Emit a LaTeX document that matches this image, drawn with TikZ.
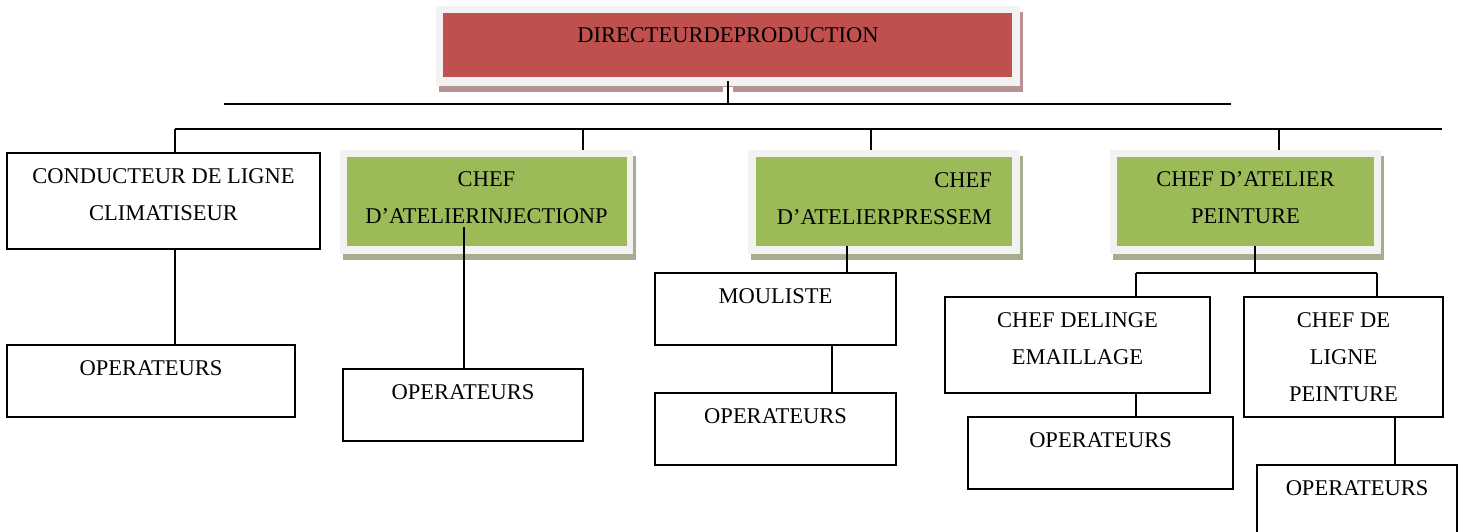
\documentclass[tikz,border=0pt]{standalone}
\usepackage{fontspec}
\setmainfont{Liberation Serif}
\usetikzlibrary{shadows}
\definecolor{redfill}{HTML}{C0504D}
\definecolor{redshadow}{HTML}{B79292}
\definecolor{greenfill}{HTML}{9BBB59}
\definecolor{greenshadow}{HTML}{A7AE90}
\definecolor{framegrey}{HTML}{F2F2F2}
\begin{document}
\begin{tikzpicture}[x=1pt,y=-1pt,
  conn/.style={draw=black,line width=1.6pt},
  plainbox/.style={draw=black,line width=1.6pt,fill=white,rectangle,inner sep=0pt},
  framebox/.style={fill=framegrey,rectangle,inner sep=0pt,
    general shadow={shadow xshift=3pt,shadow yshift=-6pt,fill=#1}},
  txt/.style={font=\fontsize{22.5}{37}\selectfont,align=center,inner sep=0pt,anchor=base},
]
\useasboundingbox (0,0) rectangle (1464,531);
\fill[white] (0,0) rectangle (1464,531);
\clip (0,0) rectangle (1464,531);

% --- head of production ---
\node[framebox=redshadow,minimum width=584pt,minimum height=80pt] (top) at (728,46) {};
\fill[redfill] ([shift={(7,7)}]top.north west) rectangle ([shift={(-8,-9)}]top.south east);
\node[txt] (ttop) at ([yshift=-37pt]top.north) {DIRECTEURDEPRODUCTION};

% --- bus lines ---
\coordinate (busAL) at (224,104);
\coordinate (busAR) at (1231,104);
\coordinate (busBL) at (175,129);
\coordinate (busBR) at (1442,129);
\coordinate (d1) at (175,129);
\coordinate (d2) at (583,129);
\coordinate (d3) at (871,129);
\coordinate (d4) at (1279,129);

\draw[white,line width=10pt] ([yshift=-1pt]top.south) -- ([yshift=-7pt]top.south);
\draw[conn] ([yshift=5pt]top.south) -- (top.south |- busAL);
\draw[conn] (busAL) -- (busAR);
\draw[conn] (busBL) -- (busBR);
\draw[line width=2.6pt] (487,129) -- (559,129);

% --- second level (text nodes are anchored on the baseline of their last line) ---
\node[plainbox,minimum width=313pt,minimum height=96pt] (b1) at (163.5,201) {};
\node[txt] (tb1) at ([yshift=-68pt]b1.north) {CONDUCTEUR DE LIGNE\\CLIMATISEUR};

\node[framebox=greenshadow,minimum width=293pt,minimum height=104pt] (g2) at (486.5,202) {};
\fill[greenfill] ([shift={(7,7)}]g2.north west) rectangle ([shift={(-6,-8)}]g2.south east);
\node[txt] (tg2) at ([yshift=-74pt]g2.north) {CHEF\\D’ATELIERINJECTIONP};

\node[framebox=greenshadow,minimum width=272pt,minimum height=104pt] (g3) at (884,202) {};
\fill[greenfill] ([shift={(8,7)}]g3.north west) rectangle ([shift={(-8,-8)}]g3.south east);
\node[txt,align=right,anchor=base east] (tg3) at (992,224) {CHEF\\D’ATELIERPRESSEM};

\node[framebox=greenshadow,minimum width=271pt,minimum height=104pt] (g4) at (1245.5,202) {};
\fill[greenfill] ([shift={(7,7)}]g4.north west) rectangle ([shift={(-7,-8)}]g4.south east);
\node[txt] (tg4) at ([yshift=-74pt]g4.north) {CHEF D’ATELIER\\PEINTURE};

\draw[conn] (d1) -- (d1 |- b1.north);
\draw[conn] (d2) -- (d2 |- g2.north);
\draw[conn] (d3) -- (d3 |- g3.north);
\draw[conn] (d4) -- (d4 |- g4.north);

% --- third level ---
\node[plainbox,minimum width=288pt,minimum height=72pt] (o1) at (151,381) {};
\node[txt] (to1) at ([yshift=-31pt]o1.north) {OPERATEURS};

\node[plainbox,minimum width=240pt,minimum height=72pt] (o2) at (463,405) {};
\node[txt] (to2) at ([yshift=-31pt]o2.north) {OPERATEURS};

\node[plainbox,minimum width=241pt,minimum height=72pt] (m) at (775.5,309) {};
\node[txt] (tm) at ([yshift=-31pt]m.north) {MOULISTE};

\node[plainbox,minimum width=241pt,minimum height=72pt] (o3) at (775.5,429) {};
\node[txt] (to3) at ([yshift=-31pt]o3.north) {OPERATEURS};

\node[plainbox,minimum width=265pt,minimum height=96pt] (e) at (1077.5,345) {};
\node[txt] (te) at ([yshift=-68pt]e.north) {CHEF DELINGE\\EMAILLAGE};

\node[plainbox,minimum width=265pt,minimum height=72pt] (o4) at (1100.5,453) {};
\node[txt] (to4) at ([yshift=-31pt]o4.north) {OPERATEURS};

\node[plainbox,minimum width=199pt,minimum height=120pt] (p) at (1343.5,357) {};
\node[txt] (tp) at ([yshift=-105pt]p.north) {CHEF DE\\LIGNE\\PEINTURE};

\node[plainbox,minimum width=200pt,minimum height=84pt] (o5) at (1357,507) {};
\node[txt] (to5) at ([yshift=-31pt]o5.north) {OPERATEURS};

% --- connectors below second level ---
\coordinate (k1) at (175,0);
\draw[conn] (b1.south -| k1) -- (o1.north -| k1);

\coordinate (g2tail) at (464,227);
\draw[conn] (g2tail) -- (g2tail |- o2.north);

\coordinate (k3) at (847,0);
\draw[conn] ([yshift=8pt]g3.south -| k3) -- (m.north -| k3);

\coordinate (k4) at (832,0);
\draw[conn] (m.south -| k4) -- (o3.north -| k4);

\coordinate (split) at (1255,273);
\coordinate (splitL) at (1136,273);
\coordinate (splitR) at (1377,273);
\draw[conn] ([yshift=8pt]g4.south -| split) -- (split);
\draw[conn] (splitL) -- (splitR);
\draw[conn] (splitL) -- (splitL |- e.north);
\draw[conn] (splitR) -- (splitR |- p.north);

\draw[conn] (e.south -| splitL) -- (o4.north -| splitL);

\coordinate (k5) at (1395,0);
\draw[conn] (p.south -| k5) -- (o5.north -| k5);
\end{tikzpicture}
\end{document}
